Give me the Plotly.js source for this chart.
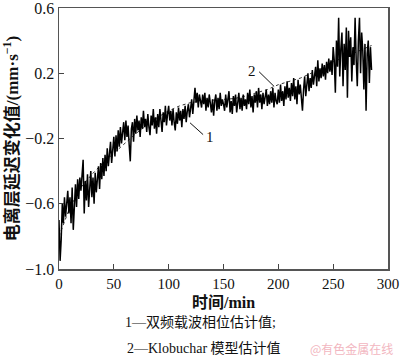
<!DOCTYPE html>
<html><head><meta charset="utf-8">
<script src="https://cdn.plot.ly/plotly-3.0.1.min.js"></script>
<style>body{margin:0;background:#fff}#c{width:400px;height:362px}</style>
</head><body><div id="c"></div>
<script>
// Series 1: dual-frequency carrier phase estimate (1-min steps, t = 0..285)
const phaseValues = [
-0.70,-0.95,-0.82,-0.60,-0.72,-0.56,-0.68,-0.58,-0.52,-0.66,
-0.56,-0.72,-0.50,-0.76,-0.55,-0.48,-0.62,-0.45,-0.57,-0.44,
-0.52,-0.40,-0.33,-0.66,-0.46,-0.58,-0.42,-0.62,-0.48,-0.40,
-0.56,-0.44,-0.60,-0.41,-0.53,-0.42,-0.37,-0.51,-0.35,-0.45,
-0.32,-0.43,-0.30,-0.40,-0.26,-0.37,-0.28,-0.22,-0.35,-0.24,
-0.19,-0.31,-0.18,-0.28,-0.15,-0.25,-0.13,-0.23,-0.15,-0.10,
-0.21,-0.09,-0.19,-0.12,-0.24,-0.34,-0.14,-0.10,-0.22,-0.08,
-0.17,-0.06,-0.15,-0.09,-0.19,-0.07,-0.14,-0.03,-0.13,-0.08,
-0.16,-0.05,-0.13,-0.18,-0.06,-0.12,-0.02,-0.14,-0.07,-0.17,
-0.05,-0.13,-0.02,-0.11,-0.16,-0.04,-0.10,0.00,-0.12,-0.05,
0.00,-0.09,-0.03,-0.12,-0.02,-0.10,-0.15,-0.04,-0.11,-0.01,
-0.09,-0.03,-0.13,-0.02,-0.08,0.00,-0.10,-0.03,0.01,-0.07,
-0.02,0.04,-0.05,0.06,0.11,0.02,0.08,-0.01,0.07,0.03,
-0.01,0.07,0.01,0.08,-0.03,0.05,-0.01,0.07,0.01,-0.04,
0.04,-0.06,0.03,0.07,-0.03,0.05,-0.02,0.08,0.00,0.04,
0.01,-0.03,0.07,-0.01,0.04,0.09,-0.04,0.03,-0.05,0.06,
0.00,0.07,-0.04,0.04,0.08,-0.02,0.05,-0.03,0.07,0.00,
0.04,-0.02,0.08,0.01,0.10,-0.01,0.06,-0.04,0.07,0.02,
0.09,-0.01,0.11,0.02,0.07,-0.02,0.08,0.01,0.05,0.10,
0.00,0.07,0.01,0.09,0.02,0.11,-0.01,0.08,0.03,0.01,
0.10,0.02,0.13,0.03,0.09,0.00,0.12,0.04,0.15,0.05,
0.11,0.03,0.14,0.06,0.17,0.04,0.12,0.01,0.16,0.07,
0.13,0.05,-0.03,0.10,0.18,0.06,0.15,0.20,0.09,0.17,
0.11,0.22,0.13,0.19,0.24,0.12,0.28,0.15,0.23,0.17,
0.26,0.18,0.25,0.16,0.27,0.20,0.29,0.21,0.28,0.19,
0.36,0.28,0.08,0.40,0.24,0.54,0.18,0.35,0.45,0.12,
0.38,0.22,0.48,0.05,0.46,0.30,0.42,0.15,0.36,0.25,
0.54,0.28,0.12,0.40,0.54,0.20,0.45,0.34,0.10,0.38,
-0.03,0.32,0.40,0.14,0.36,0.22
];
// Series 2: Klobuchar model estimate
const klobTime = [0,10,20,30,40,50,60,70,80,90,100,110,120,130,140,150,160,170,180,190,200,210,220,230,240,250,260,270,280,285];
const klobValues = [-0.80,-0.62,-0.50,-0.42,-0.35,-0.29,-0.23,-0.17,-0.12,-0.07,-0.03,0.00,0.02,0.03,0.035,0.04,0.045,0.06,0.08,0.10,0.13,0.15,0.17,0.20,0.23,0.27,0.30,0.33,0.36,0.37];
const xTicks = [0,50,100,150,200,250,300];
const yTicks = [-1.0,-0.6,-0.2,0.2,0.6];
const phaseTime = phaseValues.map((v,i)=>i);

const serif = '"Liberation Serif","Times New Roman","Noto Sans CJK SC",serif';
const traces = [
 {x: klobTime, y: klobValues, mode:'lines', line:{color:'#333', width:1, dash:'dot'}, hoverinfo:'none'},
 {x: phaseTime, y: phaseValues, mode:'lines', line:{color:'#000', width:1.5}, hoverinfo:'none'}
];
const layout = {
 width:400, height:362,
 margin:{l:59, r:12, t:8, b:93},
 showlegend:false,
 paper_bgcolor:'#fff', plot_bgcolor:'#fff',
 font:{family:serif, color:'#111', size:15},
 xaxis:{range:[0,300], tickvals:xTicks, ticks:'inside', ticklen:5, tickcolor:'#444',
   showline:true, mirror:true, linecolor:'#555', linewidth:1.5, showgrid:false, zeroline:false,
   ticklabeloverflow:'allow',
   tickfont:{size:15}, title:{text:'<b>时间/min</b>', font:{size:16}, standoff:6}},
 yaxis:{range:[-1.0,0.6], tickvals:yTicks, tickformat:'.1f', ticks:'inside', ticklen:5, tickcolor:'#444',
   showline:true, mirror:true, linecolor:'#555', linewidth:1.5, showgrid:false, zeroline:false,
   ticklabeloverflow:'allow',
   tickfont:{size:16}, title:{text:'<b>电离层延迟变化值/(mm·s<sup>−1</sup>)</b>', font:{size:17}, standoff:6}},
 shapes:[
  {type:'line', xref:'x', yref:'y', x0:119.5, y0:-0.104, x1:131.4, y1:-0.176, line:{color:'#111', width:1}},
  {type:'line', xref:'x', yref:'y', x0:182.5, y0:0.209, x1:196.2, y1:0.119, line:{color:'#111', width:1}}
 ],
 annotations:[
  {x:137.7, y:-0.19, xref:'x', yref:'y', text:'1', showarrow:false, font:{size:15}},
  {x:176, y:0.215, xref:'x', yref:'y', text:'2', showarrow:false, font:{size:15}},
  {x:0.43, y:-0.206, xref:'paper', yref:'paper', yanchor:'middle', text:'1—双频载波相位估计值;', showarrow:false, font:{size:14}},
  {x:0.44, y:-0.305, xref:'paper', yref:'paper', yanchor:'middle', text:'2—Klobuchar 模型估计值', showarrow:false, font:{size:14}},
  {x:1.02, y:-0.305, xref:'paper', yref:'paper', xanchor:'right', yanchor:'middle', text:'@有色金属在线', showarrow:false, font:{size:12, color:'#f2b6c0', family:'"Noto Sans CJK SC",sans-serif'}}
 ]
};
Plotly.newPlot('c', traces, layout, {staticPlot:true, displayModeBar:false});
</script></body></html>
